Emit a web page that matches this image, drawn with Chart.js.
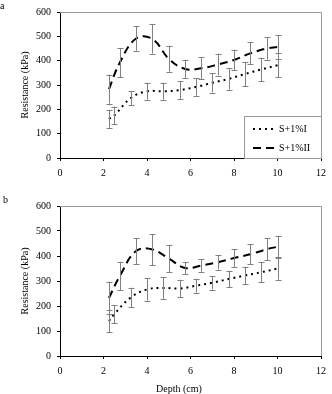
<!DOCTYPE html>
<html>
<head>
<meta charset="utf-8">
<script src="https://cdn.jsdelivr.net/npm/chart.js@4.4.1/dist/chart.umd.min.js"></script>
<style>
  body { margin: 0; background: #fff; width: 332px; height: 394px; position: relative; overflow: hidden; font-family: "Liberation Serif", serif; }
  canvas { position: absolute; left: 0; }
  .lbl { position: absolute; font-size: 10px; line-height: 12px; color: #000; z-index: 2; }
</style>
</head>
<body>
<canvas id="chartA" width="332" height="190" style="top:0"></canvas>
<canvas id="chartB" width="332" height="204" style="top:190px"></canvas>
<div class="lbl" style="left:0;top:0">a</div>
<div class="lbl" style="left:3px;top:194px">b</div>
<div class="lbl" style="left:156px;top:383px">Depth (cm)</div>
<script>
// series names + tick values
const seriesNames = ['S+1%I', 'S+1%II'];
const xTickValues = [0, 2, 4, 6, 8, 10, 12];
const yTickValues = [0, 100, 200, 300, 400, 500, 600];

// depths (cm) where each series was measured
const depthI = [2.25, 2.5, 3.25, 4, 4.75, 5.5, 6.25, 7, 7.75, 8.5, 9.25, 10];
const depthII = [2.25, 2.75, 3.5, 4.25, 5, 5.75, 6.5, 7.25, 8, 8.75, 9.5, 10];

// panel a
const aMeanI = [160, 175, 246, 274, 274, 279, 292, 309, 325, 345, 364, 381];
const aErrI = [36, 36, 30, 35, 35, 36, 36, 40, 44, 50, 48, 49];
const aMeanII = [283, 392, 491, 489, 408, 366, 369, 384, 403, 430, 450, 456];
const aErrII = [60, 60, 50, 60, 53, 38, 46, 45, 42, 45, 46, 48];

// panel b
const bMeanI = [140, 168, 234, 266, 272, 270, 281, 293, 308, 322, 335, 350];
const bErrI = [45, 36, 39, 45, 43, 35, 28, 27, 33, 35, 40, 45];
const bMeanII = [232, 320, 420, 426, 390, 352, 362, 375, 392, 407, 427, 437];
const bErrII = [65, 57, 52, 62, 55, 24, 25, 29, 35, 40, 44, 44];

const tickFont = { family: 'Liberation Serif', size: 10 };

// draws vertical error bars with caps from dataset.errors
const errorBarPlugin = {
    id: 'errorBars',
    afterDatasetsDraw(chart) {
        const ctx = chart.ctx;
        const xs = chart.scales.x, ys = chart.scales.y;
        ctx.save();
        ctx.strokeStyle = '#808080';
        ctx.lineWidth = 1;
        chart.data.datasets.forEach(ds => {
            ds.data.forEach((p, i) => {
                const e = ds.errors[i];
                const x = Math.round(xs.getPixelForValue(p.x)) + 0.5;
                const y1 = ys.getPixelForValue(p.y + e);
                const y2 = ys.getPixelForValue(p.y - e);
                ctx.beginPath();
                ctx.moveTo(x, y1); ctx.lineTo(x, y2);
                ctx.moveTo(x - 3, Math.round(y1) + 0.5); ctx.lineTo(x + 3, Math.round(y1) + 0.5);
                ctx.moveTo(x - 3, Math.round(y2) + 0.5); ctx.lineTo(x + 3, Math.round(y2) + 0.5);
                ctx.stroke();
            });
        });
        ctx.restore();
    }
};

// gray frame on top/right of plot area
const framePlugin = {
    id: 'frame',
    beforeDatasetsDraw(chart) {
        const { ctx, chartArea: a } = chart;
        ctx.save();
        ctx.strokeStyle = '#999';
        ctx.lineWidth = 1;
        ctx.beginPath();
        ctx.moveTo(a.left, a.top + 0.5); ctx.lineTo(a.right + 0.5, a.top + 0.5);
        ctx.lineTo(a.right + 0.5, a.bottom);
        ctx.stroke();
        ctx.restore();
    }
};

// legend box in lower right corner (panel a only)
const boxLegendPlugin = {
    id: 'boxLegend',
    afterDraw(chart, args, opts) {
        if (!opts.show) return;
        const { ctx, chartArea: a } = chart;
        const w = 77, h = 42;
        const left = a.right - w, top = a.bottom - h;
        ctx.save();
        ctx.fillStyle = '#fff';
        ctx.fillRect(left, top, w, h);
        ctx.strokeStyle = '#999';
        ctx.lineWidth = 1;
        ctx.strokeRect(left + 0.5, top + 0.5, w, h);
        ctx.font = '10px "Liberation Serif"';
        ctx.textBaseline = 'middle';
        ctx.fillStyle = '#000';
        chart.data.datasets.forEach((ds, i) => {
            const y = top + 13 + i * 19;
            ctx.strokeStyle = '#000';
            ctx.lineWidth = ds.borderWidth;
            ctx.setLineDash(ds.borderDash);
            ctx.beginPath();
            ctx.moveTo(left + 9, y); ctx.lineTo(left + 33, y);
            ctx.stroke();
            ctx.setLineDash([]);
            ctx.fillText(ds.label, left + 35, y);
        });
        ctx.restore();
    }
};

function makeChart(id, meanI, errI, meanII, errII, padTop, xHeight, showLegend) {
    const ctx = document.getElementById(id).getContext('2d');
    return new Chart(ctx, {
        type: 'line',
        data: {
            datasets: [{
                label: seriesNames[0],
                data: depthI.map((d, i) => ({ x: d, y: meanI[i] })),
                errors: errI,
                borderColor: '#000',
                borderWidth: 2,
                borderDash: [2, 4],
                pointRadius: 0,
                tension: 0.4,
                fill: false
            }, {
                label: seriesNames[1],
                data: depthII.map((d, i) => ({ x: d, y: meanII[i] })),
                errors: errII,
                borderColor: '#000',
                borderWidth: 2,
                borderDash: [8, 5],
                pointRadius: 0,
                tension: 0.4,
                fill: false
            }]
        },
        options: {
            responsive: false,
            animation: false,
            layout: { padding: { top: padTop, right: 5, left: 0, bottom: 0 } },
            plugins: {
                legend: { display: false },
                tooltip: { enabled: false },
                boxLegend: { show: showLegend }
            },
            scales: {
                x: {
                    type: 'linear',
                    min: 0,
                    max: 12,
                    afterBuildTicks: s => { s.ticks = xTickValues.map(v => ({ value: v })); },
                    afterFit: s => { s.height = xHeight; },
                    grid: { drawOnChartArea: false, drawTicks: true, tickLength: 3, color: '#000' },
                    border: { color: '#000', width: 1 },
                    ticks: { font: tickFont, color: '#000', padding: 6, maxRotation: 0 }
                },
                y: {
                    min: 0,
                    max: 600,
                    afterBuildTicks: s => { s.ticks = yTickValues.map(v => ({ value: v })); },
                    afterFit: s => { s.width = 60; },
                    grid: { drawOnChartArea: false, drawTicks: true, tickLength: 3, color: '#000' },
                    border: { color: '#000', width: 1 },
                    ticks: { font: tickFont, color: '#000', padding: 6 },
                    title: {
                        display: true,
                        text: 'Resistance (kPa)',
                        font: { family: 'Liberation Serif', size: 10 },
                        color: '#000',
                        padding: { top: 19, bottom: 0 }
                    }
                }
            }
        },
        plugins: [framePlugin, errorBarPlugin, boxLegendPlugin]
    });
}

makeChart('chartA', aMeanI, aErrI, aMeanII, aErrII, 8, 32, true);
makeChart('chartB', bMeanI, bErrI, bMeanII, bErrII, 16, 38, false);
</script>
</body>
</html>
